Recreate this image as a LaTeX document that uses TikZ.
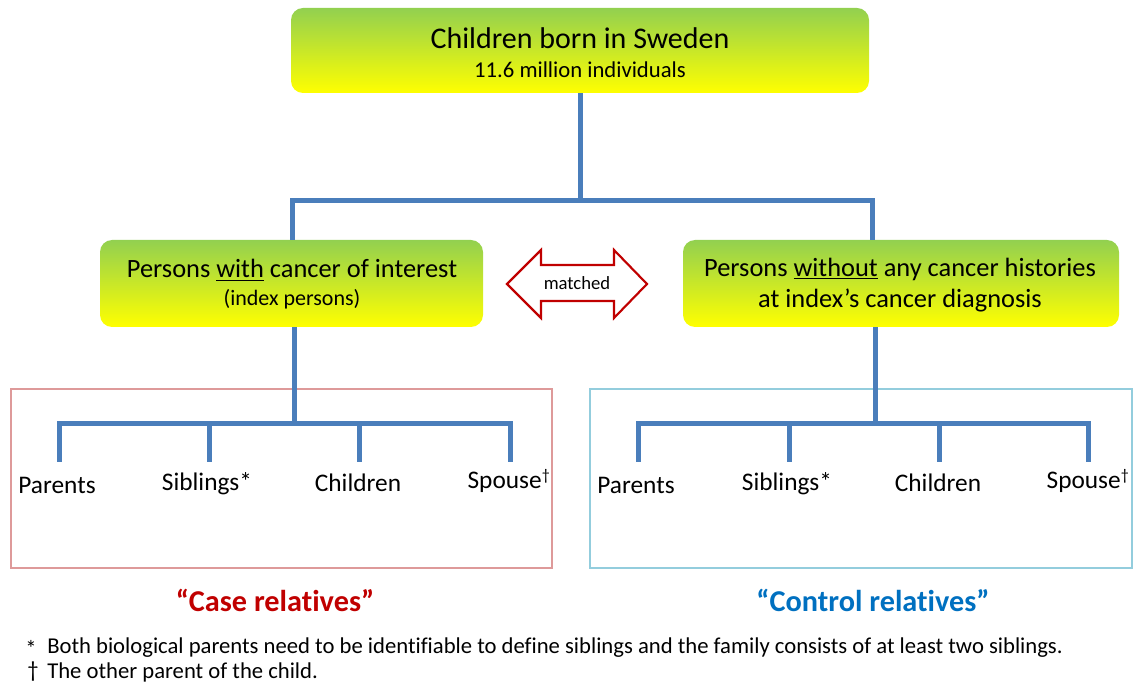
\documentclass[tikz,border=0pt]{standalone}
\usepackage{fontspec}
\setmainfont{Carlito}[Ligatures={TeX,NoCommon}]
\definecolor{linkblue}{HTML}{4A7EBB}
\definecolor{boxtop}{HTML}{92D050}
\definecolor{boxbot}{HTML}{FFFF00}
\definecolor{casered}{HTML}{C00000}
\definecolor{ctrlblue}{HTML}{0070C0}
\definecolor{caseframe}{HTML}{DE9A9A}
\definecolor{ctrlframe}{HTML}{93CDDD}
\begin{document}
\begin{tikzpicture}[x=0.75pt,y=-0.75pt,
  conn/.style={draw=linkblue,line width=3.75pt},
  gbox/.style={rounded corners=9pt, top color=boxtop, bottom color=boxbot, draw=none, inner sep=0pt},
  txt/.style={inner sep=0pt, align=center},
  lab/.style={inner sep=0pt, font=\fontsize{19}{22}\selectfont},
  foot/.style={inner sep=0pt, anchor=west, font=\fontsize{17}{20}\selectfont},
]
\useasboundingbox (0,0) rectangle (1133,684);

% boxes
\node[gbox, minimum width=433.5pt, minimum height=63.75pt] (top) at (580,50.5) {};
\node[gbox, minimum width=287.25pt, minimum height=65.25pt] (case) at (291.5,283.5) {};
\node[gbox, minimum width=327pt, minimum height=65.25pt] (ctrl) at (901,283.5) {};

\node[txt, font=\fontsize{22.5}{27}\selectfont] (toptitle) at (580,38) {Children born in Sweden};
\node[txt, font=\fontsize{17}{20}\selectfont] (topsub) at (580,70) {11.6 million individuals};
\node[txt, font=\fontsize{19.8}{23}\selectfont] (casel1) at (292,270) {Persons \underline{with} cancer of interest};
\node[txt, font=\fontsize{16.5}{20}\selectfont] (casel2) at (292,299) {(index persons)};
\node[txt, font=\fontsize{19.8}{23}\selectfont] (ctrll1) at (900,269) {Persons \underline{without} any cancer histories};
\node[txt, font=\fontsize{19.8}{23}\selectfont] (ctrll2) at (900,300) {at index’s cancer diagnosis};

% upper tree
\coordinate (j1) at (292,201);
\draw[conn] (top.south) -- (top.south |- j1);
\draw[conn] (case.north -| j1) -- (j1) -| (ctrl.north -| 872,0);

% matched arrow
\draw[casered, line width=1.6pt, fill=white, line join=miter]
  (507,284) -- (541,250) -- (541,265) -- (614,265) -- (614,250) -- (647,284)
  -- (614,318) -- (614,301) -- (541,301) -- (541,318) -- cycle;
\node[txt, font=\fontsize{14}{16}\selectfont] (matched) at (577,283) {matched};

% frames
\draw[caseframe, line width=1pt] (11,389) rectangle (552,568);
\draw[ctrlframe, line width=1pt] (590,389) rectangle (1132,568);

% lower left tree
\coordinate (bl) at (294,424);
\coordinate (lt1) at (59,462);
\coordinate (lt2) at (209,462);
\coordinate (lt3) at (359,462);
\coordinate (lt4) at (510,462);
\draw[conn] (case.south -| bl) -- (bl);
\draw[conn] (lt1) |- (bl) -| (lt4);
\draw[conn] (lt2) -- (lt2 |- bl);
\draw[conn] (lt3) -- (lt3 |- bl);

\node[lab] (lpar) at (57,485) {Parents};
\node[lab] (lsib) at (207,484) {Siblings*};
\node[lab] (lchi) at (358,483) {Children};
\node[lab] (lspo) at (509,481) {Spouse\textsuperscript{\fontsize{12}{12}\selectfont†}};

% lower right tree
\coordinate (br) at (875,424);
\coordinate (rt1) at (638,462);
\coordinate (rt2) at (789,462);
\coordinate (rt3) at (939,462);
\coordinate (rt4) at (1088,462);
\draw[conn] (ctrl.south -| br) -- (br);
\draw[conn] (rt1) |- (br) -| (rt4);
\draw[conn] (rt2) -- (rt2 |- br);
\draw[conn] (rt3) -- (rt3 |- br);

\node[lab] (rpar) at (636,485) {Parents};
\node[lab] (rsib) at (787,484) {Siblings*};
\node[lab] (rchi) at (938,483) {Children};
\node[lab] (rspo) at (1088,481) {Spouse\textsuperscript{\fontsize{12}{12}\selectfont†}};

% group labels
\node[txt, font=\bfseries\fontsize{22.7}{26}\selectfont, text=casered] (casegrp) at (275,600) {“Case relatives”};
\node[txt, font=\bfseries\fontsize{22.7}{26}\selectfont, text=ctrlblue] (ctrlgrp) at (873,600) {“Control relatives”};

% footnotes
\node[foot] (fn1m) at (25,648) {*};
\node[foot] (fn1) at (47,648) {Both biological parents need to be identifiable to define siblings and the family consists of at least two siblings.};
\node[foot] (fn2m) at (27,672) {†};
\node[foot] (fn2) at (47,672) {The other parent of the child.};
\end{tikzpicture}
\end{document}
